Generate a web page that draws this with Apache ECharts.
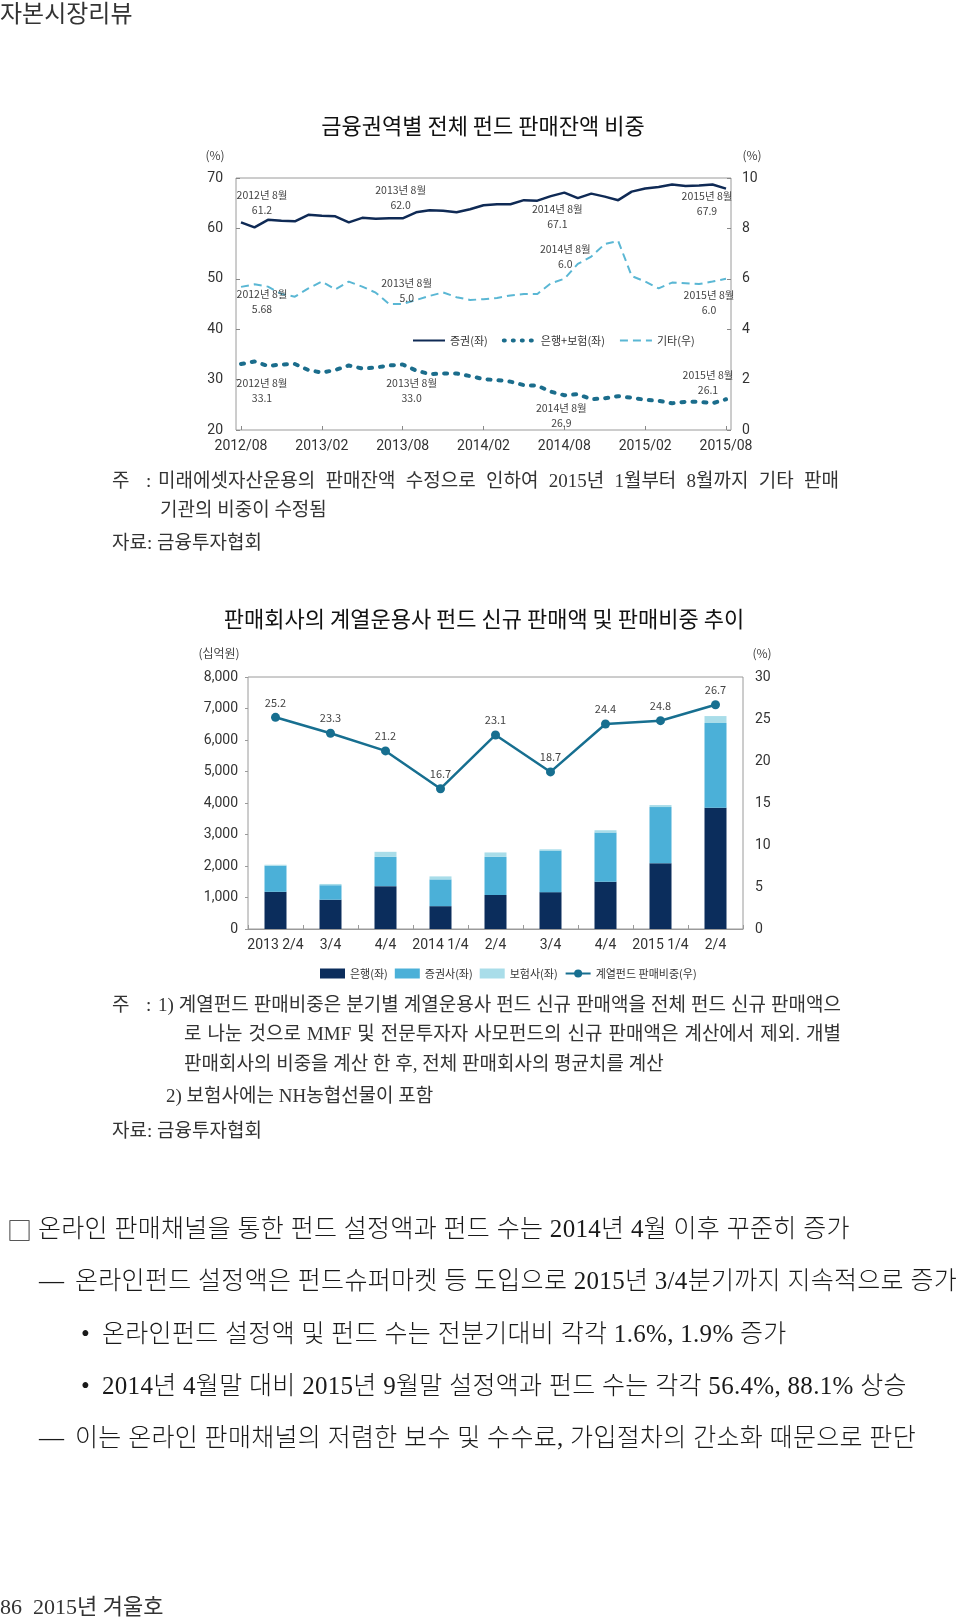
<!DOCTYPE html>
<html><head><meta charset="utf-8">
<script src="https://cdn.jsdelivr.net/npm/echarts@6/dist/echarts.min.js"></script>
<style>
html,body{margin:0;padding:0;background:#fff;}
#page{position:relative;width:960px;height:1624px;overflow:hidden;font-family:"Noto Sans CJK KR","Noto Sans",sans-serif;color:#222;}
#chart{position:absolute;left:0;top:0;width:960px;height:1624px;}
.t{position:absolute;white-space:nowrap;line-height:30px;height:30px;}
.c{transform:translateX(-50%);}
.note{font-family:"Liberation Serif","Noto Sans CJK KR",serif;font-size:19px;color:#333;}
.j{text-align:justify;text-align-last:justify;}
.body{font-family:"Liberation Serif","Noto Sans CJK KR",serif;font-size:25px;font-weight:300;color:#1a1a1a;letter-spacing:0.3px;}
.ax{font-size:12px;color:#444;}
.ttl{font-size:22px;color:#111;}
</style></head>
<body><div id="page"><div id="chart"></div>
<div class="t" style="left:0;top:-3px;font-size:24px;color:#333;">자본시장리뷰</div>
<div class="t c ttl" style="left:483px;top:109px;">금융권역별 전체 펀드 판매잔액 비중</div>
<div class="t c ax" style="left:215px;top:140px;">(%)</div>
<div class="t c ax" style="left:752px;top:140px;">(%)</div>

<div class="t note" style="left:112px;top:466px;">주</div>
<div class="t note" style="left:146px;top:466px;">:</div>
<div class="t note j" style="left:158px;top:466px;width:681px;">미래에셋자산운용의 판매잔액 수정으로 인하여 2015년 1월부터 8월까지 기타 판매</div>
<div class="t note" style="left:160px;top:495px;">기관의 비중이 수정됨</div>
<div class="t note" style="left:112px;top:528px;">자료: 금융투자협회</div>

<div class="t c ttl" style="left:484px;top:602px;">판매회사의 계열운용사 펀드 신규 판매액 및 판매비중 추이</div>
<div class="t c ax" style="left:219px;top:638px;">(십억원)</div>
<div class="t c ax" style="left:762px;top:638px;">(%)</div>

<div class="t note" style="left:112px;top:990px;">주</div>
<div class="t note" style="left:146px;top:990px;">:</div>
<div class="t note j" style="left:158px;top:990px;width:683px;">1) 계열펀드 판매비중은 분기별 계열운용사 펀드 신규 판매액을 전체 펀드 신규 판매액으</div>
<div class="t note j" style="left:184px;top:1019px;width:657px;">로 나눈 것으로 MMF 및 전문투자자 사모펀드의 신규 판매액은 계산에서 제외. 개별</div>
<div class="t note" style="left:184px;top:1049px;">판매회사의 비중을 계산 한 후, 전체 판매회사의 평균치를 계산</div>
<div class="t note" style="left:166px;top:1081px;">2) 보험사에는 NH농협선물이 포함</div>
<div class="t note" style="left:112px;top:1116px;">자료: 금융투자협회</div>

<div class="t" style="left:7px;top:1214px;font-size:25px;font-weight:300;color:#1a1a1a;">□</div>
<div class="t body" style="left:38px;top:1214px;">온라인 판매채널을 통한 펀드 설정액과 펀드 수는 2014년 4월 이후 꾸준히 증가</div>
<div class="t body" style="left:39px;top:1266px;">—</div>
<div class="t body" style="left:75px;top:1266px;">온라인펀드 설정액은 펀드슈퍼마켓 등 도입으로 2015년 3/4분기까지 지속적으로 증가</div>
<div class="t body" style="left:81px;top:1319px;">•</div>
<div class="t body" style="left:102px;top:1319px;">온라인펀드 설정액 및 펀드 수는 전분기대비 각각 1.6%, 1.9% 증가</div>
<div class="t body" style="left:81px;top:1371px;">•</div>
<div class="t body" style="left:102px;top:1371px;">2014년 4월말 대비 2015년 9월말 설정액과 펀드 수는 각각 56.4%, 88.1% 상승</div>
<div class="t body" style="left:39px;top:1423px;">—</div>
<div class="t body" style="left:75px;top:1423px;">이는 온라인 판매채널의 저렴한 보수 및 수수료, 가입절차의 간소화 때문으로 판단</div>

<div class="t" style="left:0;top:1592px;font-size:22px;color:#333;font-family:'Liberation Serif','Noto Sans CJK KR',serif;">86&nbsp;&nbsp;2015년 겨울호</div>
</div>
<script>
// ---------- Chart 1 data ----------
const months = ['2012/08','2012/09','2012/10','2012/11','2012/12',
 '2013/01','2013/02','2013/03','2013/04','2013/05','2013/06','2013/07','2013/08','2013/09','2013/10','2013/11','2013/12',
 '2014/01','2014/02','2014/03','2014/04','2014/05','2014/06','2014/07','2014/08','2014/09','2014/10','2014/11','2014/12',
 '2015/01','2015/02','2015/03','2015/04','2015/05','2015/06','2015/07','2015/08'];
const securities = [61.2,60.2,61.7,61.5,61.4,62.7,62.5,62.4,61.2,62.1,61.9,62.0,62.0,63.2,63.6,63.5,63.2,63.8,64.6,
 64.8,64.8,65.6,65.5,66.4,67.1,66.0,66.9,66.3,65.6,67.3,67.9,68.2,68.7,68.4,68.5,68.7,67.9];
const bankInsurance = [33.1,33.6,32.7,33.0,33.1,31.9,31.4,31.9,32.8,32.2,32.4,32.8,33.0,31.8,31.1,31.2,31.2,30.7,30.1,
 29.9,29.6,28.9,28.8,27.6,26.9,27.1,26.1,26.3,26.7,26.4,26.0,25.8,25.3,25.6,25.6,25.3,26.1];
const others = [5.68,5.78,5.69,5.40,5.29,5.62,5.89,5.58,5.89,5.69,5.45,5.00,5.0,5.16,5.32,5.46,5.27,5.16,5.19,
 5.24,5.34,5.40,5.40,5.82,6.0,6.59,6.88,7.38,7.50,6.11,5.89,5.62,5.85,5.82,5.79,5.89,6.0];
const topSeriesNames = ['증권(좌)','은행+보험(좌)','기타(우)'];
const leftTicks1 = [20,70,10];
const rightTicks1 = [0,10,2];

// ---------- Chart 2 data ----------
const quarters = ['2013 2/4','3/4','4/4','2014 1/4','2/4','3/4','4/4','2015 1/4','2/4'];
const bank = [1180,930,1360,725,1080,1170,1500,2090,3850];
const secFirms = [830,460,930,850,1210,1320,1560,1780,2690];
const insurers = [30,40,160,95,140,40,75,65,220];
const affiliateShare = [25.2,23.3,21.2,16.7,23.1,18.7,24.4,24.8,26.7];
const bottomSeriesNames = ['은행(좌)','증권사(좌)','보험사(좌)','계열펀드 판매비중(우)'];

// annotation placement (label text built from the arrays)
const topNotes = [
 {s:0,i:0,d:1,off:[21,-20]},{s:0,i:12,d:1,off:[-2,-21]},{s:0,i:24,d:1,off:[-7,24]},{s:0,i:36,d:1,off:[-19,15]},
 {s:1,i:0,d:1,off:[21,27]},{s:1,i:12,d:1,off:[9,26]},{s:1,i:24,d:1,off:[-3,20]},{s:1,i:36,d:1,off:[-18,-17]},
 {s:2,i:0,d:2,off:[21,15]},{s:2,i:12,d:1,off:[4,-13]},{s:2,i:24,d:1,off:[1,-22]},{s:2,i:36,d:1,off:[-17,24]}
];
const topData = [securities, bankInsurance, others];
function markFor(s){
  return {
    symbol:'circle', symbolSize:0, silent:true,
    data: topNotes.filter(n=>n.s===s).map(n=>{
      const [y,m] = months[n.i].split('/');
      const v = topData[s][n.i];
      return {coord:[months[n.i], v],
        label:{show:true, formatter: y+'년 '+(+m)+'월\n'+v.toFixed(n.d), offset:n.off,
          fontSize:10.5, lineHeight:15, color:'#444', fontFamily:'"Noto Sans CJK KR", sans-serif'}};
    })
  };
}

const C1 = {top:178, bottom:1624-430};
const C2 = {top:677, bottom:1624-929, left:248, right:960-743};
const axisFont = {fontSize:14, color:'#333', fontFamily:'Roboto, "Noto Sans CJK KR", sans-serif'};
const legendFont = {fontSize:11, color:'#333', fontFamily:'"Noto Sans CJK KR", sans-serif'};

const chart = echarts.init(document.getElementById('chart'), null, {renderer:'canvas'});
chart.setOption({
  animation:false,
  grid:[
    {left:241, right:234, top:C1.top, bottom:C1.bottom},
    {left:236, right:229, top:C1.top, bottom:C1.bottom, show:true, borderColor:'#9a9a9a', borderWidth:1, backgroundColor:'transparent'},
    {left:C2.left, right:C2.right, top:C2.top, bottom:C2.bottom, show:true, borderColor:'#9a9a9a', borderWidth:1, backgroundColor:'transparent'}
  ],
  legend:[
    {data:[topSeriesNames[0],
           {name:topSeriesNames[1], lineStyle:{color:'#1b6d8c', width:4, type:[1,8], cap:'round'}},
           topSeriesNames[2]],
     left:407, top:330, itemWidth:32, itemHeight:10, itemGap:14,
     itemStyle:{opacity:0}, textStyle:legendFont},
    {data:[{name:bottomSeriesNames[0],icon:'rect'},{name:bottomSeriesNames[1],icon:'rect'},{name:bottomSeriesNames[2],icon:'rect'},{name:bottomSeriesNames[3]}],
     left:315, top:963, itemWidth:25, itemHeight:10, itemGap:7, textStyle:legendFont}
  ],
  xAxis:[
    {type:'category', gridIndex:0, data:months, boundaryGap:false,
     axisLine:{show:false}, axisTick:{show:true, inside:true, length:4, interval:5, lineStyle:{color:'#888'}},
     axisLabel:Object.assign({interval:5, margin:10}, axisFont), splitLine:{show:false}},
    {type:'category', gridIndex:1, show:false, data:['a']},
    {type:'category', gridIndex:2, data:quarters, boundaryGap:true,
     axisLine:{show:true, lineStyle:{color:'#9a9a9a'}}, axisTick:{show:true, inside:true, length:4, lineStyle:{color:'#9a9a9a'}},
     axisLabel:Object.assign({interval:0, margin:9}, axisFont)}
  ],
  yAxis:[
    {type:'value', gridIndex:0, min:leftTicks1[0], max:leftTicks1[1], interval:leftTicks1[2], offset:5,
     axisLine:{show:false}, axisTick:{show:true, inside:true, length:4, lineStyle:{color:'#888'}},
     splitLine:{show:false}, axisLabel:Object.assign({margin:13}, axisFont)},
    {type:'value', gridIndex:0, position:'right', min:rightTicks1[0], max:rightTicks1[1], interval:rightTicks1[2], offset:5,
     axisLine:{show:false}, axisTick:{show:true, inside:true, length:4, lineStyle:{color:'#888'}},
     splitLine:{show:false}, axisLabel:Object.assign({margin:11}, axisFont)},
    {type:'value', gridIndex:1, show:false},
    {type:'value', gridIndex:2, min:0, max:8000, interval:1000,
     axisLine:{show:false}, axisTick:{show:true, length:3, lineStyle:{color:'#9a9a9a'}},
     splitLine:{show:false}, axisLabel:Object.assign({margin:10, formatter:v=>v.toLocaleString('en-US')}, axisFont)},
    {type:'value', gridIndex:2, position:'right', min:0, max:30, interval:5,
     axisLine:{show:false}, axisTick:{show:false},
     splitLine:{show:false}, axisLabel:Object.assign({margin:12}, axisFont)}
  ],
  series:[
    {name:topSeriesNames[0], type:'line', xAxisIndex:0, yAxisIndex:0, data:securities, symbol:'none',
     lineStyle:{color:'#0f2a55', width:2.5}, itemStyle:{color:'#0f2a55'}, markPoint:markFor(0), z:4},
    {name:topSeriesNames[1], type:'line', xAxisIndex:0, yAxisIndex:0, data:bankInsurance, symbol:'none',
     lineStyle:{color:'#1b6d8c', width:4, type:[3,8], cap:'round'}, itemStyle:{color:'#1b6d8c'}, markPoint:markFor(1), z:3},
    {name:topSeriesNames[2], type:'line', xAxisIndex:0, yAxisIndex:1, data:others, symbol:'none',
     lineStyle:{color:'#5ab7d4', width:2, type:[8,5]}, itemStyle:{color:'#5ab7d4'}, markPoint:markFor(2), z:2},

    {name:bottomSeriesNames[0], type:'bar', xAxisIndex:2, yAxisIndex:3, stack:'s', data:bank, barWidth:22,
     itemStyle:{color:'#0b2d5c'}},
    {name:bottomSeriesNames[1], type:'bar', xAxisIndex:2, yAxisIndex:3, stack:'s', data:secFirms, barWidth:22,
     itemStyle:{color:'#4bb0d8'}},
    {name:bottomSeriesNames[2], type:'bar', xAxisIndex:2, yAxisIndex:3, stack:'s', data:insurers, barWidth:22,
     itemStyle:{color:'#a9dde9'}},
    {name:bottomSeriesNames[3], type:'line', xAxisIndex:2, yAxisIndex:4, data:affiliateShare,
     symbol:'circle', symbolSize:9, lineStyle:{color:'#176f90', width:2.5}, itemStyle:{color:'#176f90'},
     label:{show:true, position:'top', distance:5, fontSize:11, color:'#444', formatter:p=>p.value.toFixed(1),
       fontFamily:'"Noto Sans CJK KR", sans-serif'}, z:5}
  ]
});
</script>
</body></html>
